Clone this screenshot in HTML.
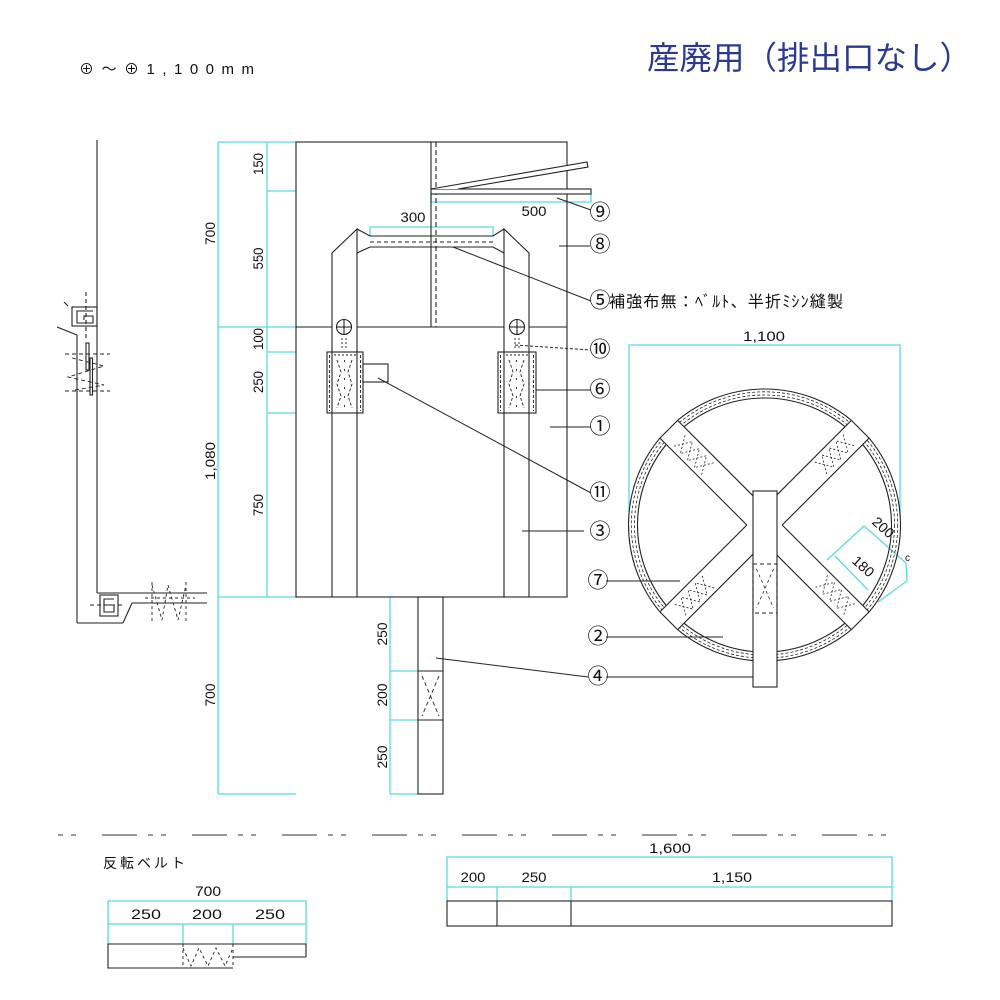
<!DOCTYPE html>
<html><head><meta charset="utf-8"><style>
html,body{margin:0;padding:0;background:#fff;}
svg{display:block;}
text{font-family:"Liberation Sans","Noto Sans CJK JP",sans-serif;fill:#111;}
.cn{font-size:21px;text-anchor:middle;dominant-baseline:central;}
.d{font-size:14px;text-anchor:middle;}
</style></head><body>
<svg width="1000" height="1000" viewBox="0 0 1000 1000" xmlns="http://www.w3.org/2000/svg">
<rect width="1000" height="1000" fill="#fff"/>

<!-- Header texts -->
<text x="79" y="74" font-size="15" textLength="175" lengthAdjust="spacing">⊕～⊕1,100mm</text>
<text x="647" y="69" font-size="32" style="fill:#2b3990" textLength="325" lengthAdjust="spacingAndGlyphs">産廃用（排出口なし）</text>

<!-- Cyan dimension lines -->
<g stroke="#5fd8de" stroke-width="1.3" fill="none">
  <line x1="218" y1="142" x2="218" y2="794"/>
  <line x1="267" y1="142" x2="267" y2="597"/>
  <line x1="218" y1="142" x2="296" y2="142"/>
  <line x1="267" y1="191" x2="296" y2="191"/>
  <line x1="218" y1="327" x2="296" y2="327"/>
  <line x1="267" y1="352" x2="296" y2="352"/>
  <line x1="267" y1="413" x2="296" y2="413"/>
  <line x1="218" y1="597" x2="296" y2="597"/>
  <line x1="218" y1="794" x2="296" y2="794"/>
  <polyline points="370,236 370,227 493,227 493,236"/>
  <polyline points="431,194 431,202 591,202 591,194"/>
  <line x1="390" y1="597" x2="390" y2="794"/>
  <line x1="390" y1="671" x2="418" y2="671"/>
  <line x1="390" y1="720" x2="418" y2="720"/>
  <line x1="390" y1="794" x2="418" y2="794"/>
  <polyline points="629,512 629,345 900,345 900,517"/>
  <!-- 200/180 dims -->
  <line x1="827" y1="560" x2="864" y2="526"/>
  <line x1="864" y1="526" x2="906" y2="563"/>
  <line x1="835" y1="556" x2="868" y2="590"/>
  <line x1="906" y1="563" x2="907" y2="581"/>
  <line x1="878" y1="602" x2="907" y2="581"/>
  <!-- reverse belt table -->
  <polyline points="108,944 108,901 306,901 306,944"/>
  <line x1="108" y1="924" x2="306" y2="924"/>
  <line x1="183" y1="924" x2="183" y2="944"/>
  <line x1="233" y1="924" x2="233" y2="944"/>
  <!-- right table -->
  <polyline points="447,901 447,857 892,857 892,901"/>
  <line x1="447" y1="887" x2="892" y2="887"/>
  <line x1="497" y1="887" x2="497" y2="901"/>
  <line x1="571" y1="887" x2="571" y2="901"/>
</g>

<!-- Main bag -->
<g stroke="#222" stroke-width="1.1" fill="none">
  <rect x="296" y="142" width="271" height="455"/>
  <line x1="431" y1="142" x2="431" y2="327"/>
  <line x1="436" y1="142" x2="436" y2="327" stroke-dasharray="5 3"/>
  <line x1="296" y1="327" x2="332" y2="327"/>
  <line x1="357" y1="327" x2="504" y2="327"/>
  <line x1="529" y1="327" x2="567" y2="327"/>
  <polyline points="332,597 332,253 357,229 357,597"/>
  <polyline points="504,597 504,229 529,253 529,597"/>
  <polyline points="357,229 370,236 493,236 504,229"/>
  <polyline points="357,253 370,247 493,247 504,253"/>
  <line x1="370" y1="242" x2="493" y2="242" stroke-dasharray="4 3"/>
  <rect x="431" y="189" width="160" height="5" fill="#fff"/>
  <polyline points="431,189 587,162 588,167 458,189" fill="#fff"/>
  <!-- circles -->
  <circle cx="344" cy="327" r="7.5" fill="#fff"/>
  <line x1="336.5" y1="327" x2="351.5" y2="327"/><line x1="344" y1="319.5" x2="344" y2="334.5"/>
  <circle cx="517" cy="327" r="7.5" fill="#fff"/>
  <line x1="509.5" y1="327" x2="524.5" y2="327"/><line x1="517" y1="319.5" x2="517" y2="334.5"/>
  <!-- marks under circles -->
  <g stroke-width="0.9" stroke-dasharray="2 2">
    <line x1="342" y1="338" x2="342" y2="349"/><line x1="346" y1="338" x2="346" y2="349"/>
    <line x1="334" y1="355" x2="356" y2="355"/>
    <line x1="515" y1="338" x2="515" y2="349"/><line x1="519" y1="338" x2="519" y2="349"/>
    <line x1="506" y1="355" x2="528" y2="355"/>
  </g>
  <!-- patches 6 -->
  <rect x="327" y="352" width="36" height="61"/>
  <rect x="498" y="352" width="38" height="61"/>
  <g stroke-width="0.9" stroke-dasharray="3 2">
    <line x1="329.5" y1="355" x2="329.5" y2="411"/><line x1="360.5" y1="355" x2="360.5" y2="411"/>
    <polyline points="337,360 341,372 337,384 341,396 337,408"/>
    <polyline points="352,360 348,372 352,384 348,396 352,408"/>
    <line x1="344.5" y1="360" x2="344.5" y2="408" stroke-dasharray="2 7"/>
    <line x1="500.5" y1="355" x2="500.5" y2="411"/><line x1="533.5" y1="355" x2="533.5" y2="411"/>
    <polyline points="509,360 513,372 509,384 513,396 509,408"/>
    <polyline points="524,360 520,372 524,384 520,396 524,408"/>
    <line x1="516.5" y1="360" x2="516.5" y2="408" stroke-dasharray="2 7"/>
  </g>
  <!-- item 11 -->
  <rect x="363" y="364" width="25" height="18" fill="#fff"/>
  <!-- bottom belt 4 -->
  <rect x="418" y="597" width="25" height="197"/>
  <line x1="418" y1="671" x2="443" y2="671"/>
  <line x1="418" y1="720" x2="443" y2="720"/>
  <g stroke-width="0.9" stroke-dasharray="4 3">
    <line x1="422" y1="676" x2="439" y2="716"/>
    <line x1="439" y1="676" x2="422" y2="716"/>
  </g>
</g>

<!-- Leaders -->
<g stroke="#222" stroke-width="1" fill="none">
  <line x1="557" y1="198" x2="591" y2="210"/>
  <line x1="559" y1="246" x2="590" y2="246"/>
  <line x1="453" y1="247" x2="591" y2="301"/>
  <line x1="515" y1="345" x2="591" y2="350" stroke-dasharray="3 2"/>
  <line x1="536" y1="390" x2="591" y2="390"/>
  <line x1="550" y1="427" x2="591" y2="427"/>
  <line x1="378" y1="378" x2="591" y2="493"/>
  <line x1="522" y1="531" x2="584" y2="531"/>
  <line x1="606" y1="581" x2="680" y2="581"/>
  <line x1="606" y1="637" x2="723" y2="637"/>
  <line x1="436" y1="658" x2="588" y2="677"/>
  <line x1="606" y1="677" x2="758" y2="677"/>
</g>
<text class="cn" x="600" y="213">⑨</text>
<text class="cn" x="600" y="245">⑧</text>
<text class="cn" x="600" y="301">⑤</text>
<text x="609" y="307" font-size="16" textLength="234" lengthAdjust="spacing">補強布無：ﾍﾞﾙﾄ、半折ﾐｼﾝ縫製</text>
<text class="cn" x="600" y="350">⑩</text>
<text class="cn" x="600" y="390">⑥</text>
<text class="cn" x="600" y="427">①</text>
<text class="cn" x="600" y="493">⑪</text>
<text class="cn" x="600" y="532">③</text>
<text class="cn" x="598" y="581">⑦</text>
<text class="cn" x="598" y="637">②</text>
<text class="cn" x="598" y="677">④</text>

<!-- Dimension texts -->
<text class="d" x="413" y="222" textLength="25" lengthAdjust="spacingAndGlyphs">300</text>
<text class="d" x="534" y="216" textLength="25" lengthAdjust="spacingAndGlyphs">500</text>
<text class="d" transform="translate(215,233.5) rotate(-90)" textLength="23" lengthAdjust="spacingAndGlyphs">700</text>
<text class="d" transform="translate(263,164) rotate(-90)" textLength="22" lengthAdjust="spacingAndGlyphs">150</text>
<text class="d" transform="translate(263,258.5) rotate(-90)" textLength="22" lengthAdjust="spacingAndGlyphs">550</text>
<text class="d" transform="translate(263,339) rotate(-90)" textLength="22" lengthAdjust="spacingAndGlyphs">100</text>
<text class="d" transform="translate(263,382) rotate(-90)" textLength="22" lengthAdjust="spacingAndGlyphs">250</text>
<text class="d" transform="translate(263,505) rotate(-90)" textLength="22" lengthAdjust="spacingAndGlyphs">750</text>
<text class="d" transform="translate(215,461) rotate(-90)" textLength="38" lengthAdjust="spacingAndGlyphs">1,080</text>
<text class="d" transform="translate(215,695) rotate(-90)" textLength="23" lengthAdjust="spacingAndGlyphs">700</text>
<text class="d" transform="translate(387,634) rotate(-90)" textLength="23" lengthAdjust="spacingAndGlyphs">250</text>
<text class="d" transform="translate(387,695) rotate(-90)" textLength="23" lengthAdjust="spacingAndGlyphs">200</text>
<text class="d" transform="translate(387,757) rotate(-90)" textLength="23" lengthAdjust="spacingAndGlyphs">250</text>
<text class="d" x="764" y="341" textLength="42" lengthAdjust="spacingAndGlyphs">1,100</text>
<text class="d" transform="translate(880,531) rotate(42)" textLength="24" lengthAdjust="spacingAndGlyphs">200</text>
<text class="d" transform="translate(860,570) rotate(42)" textLength="24" lengthAdjust="spacingAndGlyphs">180</text>
<text x="905" y="561" font-size="10">c</text>

<!-- Circle (bottom view) -->
<g transform="translate(764.5,525)" stroke="#222" fill="none" stroke-width="1.1">
  <circle r="136"/>
  <circle r="127"/>
  <circle r="130" stroke-width="0.8" stroke-dasharray="3 2"/>
  <circle r="133.2" stroke-width="0.8" stroke-dasharray="3 2"/>
  <g transform="rotate(-135)">
    <rect x="95" y="-12.5" width="43" height="25" fill="#fff" stroke="none"/>
    <line x1="12.5" y1="-12.5" x2="135.4" y2="-12.5"/><line x1="12.5" y1="12.5" x2="135.4" y2="12.5"/>
    <line x1="135.4" y1="-12.5" x2="135.4" y2="12.5"/>
    <g stroke-width="0.8" stroke-dasharray="2 2"><polyline points="80,-9 90,8 100,-9 110,8 120,-9"/><polyline points="80,8 90,-9 100,8 110,-9 120,8"/></g>
  </g>
  <g transform="rotate(-45)">
    <rect x="95" y="-12.5" width="43" height="25" fill="#fff" stroke="none"/>
    <line x1="12.5" y1="-12.5" x2="135.4" y2="-12.5"/><line x1="12.5" y1="12.5" x2="135.4" y2="12.5"/>
    <line x1="135.4" y1="-12.5" x2="135.4" y2="12.5"/>
    <g stroke-width="0.8" stroke-dasharray="2 2"><polyline points="80,-9 90,8 100,-9 110,8 120,-9"/><polyline points="80,8 90,-9 100,8 110,-9 120,8"/></g>
  </g>
  <g transform="rotate(135)">
    <rect x="95" y="-12.5" width="43" height="25" fill="#fff" stroke="none"/>
    <line x1="12.5" y1="-12.5" x2="135.4" y2="-12.5"/><line x1="12.5" y1="12.5" x2="135.4" y2="12.5"/>
    <line x1="135.4" y1="-12.5" x2="135.4" y2="12.5"/>
    <g stroke-width="0.8" stroke-dasharray="2 2"><polyline points="80,-9 90,8 100,-9 110,8 120,-9"/><polyline points="80,8 90,-9 100,8 110,-9 120,8"/></g>
  </g>
  <g transform="rotate(45)">
    <rect x="95" y="-12.5" width="43" height="25" fill="#fff" stroke="none"/>
    <line x1="12.5" y1="-12.5" x2="135.4" y2="-12.5"/><line x1="12.5" y1="12.5" x2="135.4" y2="12.5"/>
    <line x1="135.4" y1="-12.5" x2="135.4" y2="12.5"/>
    <g stroke-width="0.8" stroke-dasharray="2 2"><polyline points="80,-9 90,8 100,-9 110,8 120,-9"/><polyline points="80,8 90,-9 100,8 110,-9 120,8"/></g>
  </g>
  <rect x="-11.5" y="-34" width="24" height="196" fill="#fff"/>
  <rect x="-11.5" y="39" width="24" height="49" stroke-dasharray="4 3"/>
  <g stroke-width="0.8" stroke-dasharray="3 3">
    <line x1="-8" y1="44" x2="9" y2="83"/><line x1="9" y1="44" x2="-8" y2="83"/>
  </g>
</g>

<!-- Left profile -->
<g stroke="#222" stroke-width="1.1" fill="none">
  <line x1="97" y1="140" x2="97" y2="593"/>
  <rect x="72" y="307" width="25" height="19"/>
  <path d="M93,311 L77,311 L77,323 L93,323 L93,316 L84,316 L84,320"/>
  <line x1="64" y1="302" x2="68" y2="306"/>
  <line x1="57" y1="327" x2="77" y2="335"/>
  <line x1="77" y1="335" x2="77" y2="623"/>
  <line x1="86" y1="292" x2="86" y2="340" stroke-dasharray="4 3"/>
  <rect x="86" y="343" width="3" height="27"/>
  <rect x="90" y="358" width="2.5" height="37"/>
  <g stroke-width="0.9" stroke-dasharray="4 3">
    <line x1="65" y1="354" x2="110" y2="354"/>
    <line x1="65" y1="391" x2="110" y2="391"/>
    <polyline points="72,358 104,366 68,377 104,385 75,390"/>
  </g>
  <line x1="97" y1="593" x2="207" y2="593"/>
  <line x1="77" y1="623" x2="123" y2="623"/>
  <line x1="123" y1="623" x2="132" y2="603"/>
  <line x1="132" y1="603" x2="207" y2="603"/>
  <rect x="100" y="595" width="18" height="21"/>
  <path d="M114,599 L104,599 L104,612 L114,612 L114,605 L108,605"/>
  <line x1="90" y1="605" x2="122" y2="605" stroke-dasharray="4 3"/>
  <g stroke-width="0.9" stroke-dasharray="3 3">
    <line x1="152" y1="582" x2="152" y2="622"/>
    <line x1="186" y1="582" x2="186" y2="622"/>
    <polyline points="152,585 162,620 168,585 178,620 186,585"/>
    <line x1="145" y1="598" x2="195" y2="598"/>
  </g>
</g>

<!-- Dash-dot separator -->
<line x1="58" y1="835" x2="892" y2="835" stroke="#333" stroke-width="1.1" stroke-dasharray="5 8 5 26 35 11"/>

<!-- Reverse belt -->
<text x="103" y="868" font-size="14" textLength="82" lengthAdjust="spacing">反転ベルト</text>
<text class="d" x="208" y="896" font-size="13" textLength="26" lengthAdjust="spacingAndGlyphs">700</text>
<text class="d" x="146" y="919" textLength="30" lengthAdjust="spacingAndGlyphs">250</text>
<text class="d" x="207" y="919" textLength="30" lengthAdjust="spacingAndGlyphs">200</text>
<text class="d" x="270" y="919" textLength="30" lengthAdjust="spacingAndGlyphs">250</text>
<g stroke="#222" stroke-width="1.1" fill="none">
  <polyline points="306,957 306,944 108,944 108,968 233,968"/>
  <line x1="233" y1="957" x2="306" y2="957"/>
  <g stroke-width="0.9" stroke-dasharray="3 3">
    <line x1="183" y1="944" x2="183" y2="968"/>
    <line x1="233" y1="944" x2="233" y2="968"/>
    <polyline points="183,948 191,966 199,948 208,966 216,948 225,966 233,948"/>
  </g>
</g>

<!-- Right table -->
<text class="d" x="670" y="853" textLength="42" lengthAdjust="spacingAndGlyphs">1,600</text>
<text class="d" x="473" y="882" textLength="25" lengthAdjust="spacingAndGlyphs">200</text>
<text class="d" x="534" y="882" textLength="25" lengthAdjust="spacingAndGlyphs">250</text>
<text class="d" x="732" y="882" textLength="40" lengthAdjust="spacingAndGlyphs">1,150</text>
<g stroke="#222" stroke-width="1.1" fill="none">
  <rect x="447" y="901" width="445" height="25"/>
  <line x1="497" y1="901" x2="497" y2="926"/>
  <line x1="571" y1="901" x2="571" y2="926"/>
</g>
</svg>
</body></html>
